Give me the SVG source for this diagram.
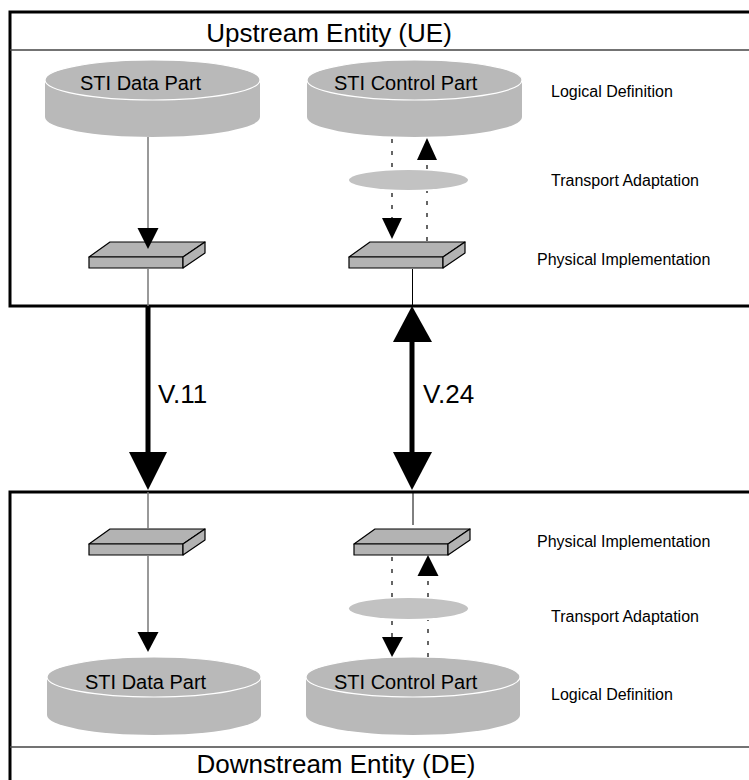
<svg xmlns="http://www.w3.org/2000/svg" width="749" height="780" viewBox="0 0 749 780">
<style>
text{font-family:"Liberation Sans",Arial,sans-serif;fill:#000}
.box{fill:#fff;stroke:#000;stroke-width:3}
.sep{stroke:#444;stroke-width:1.5}
.title{font-size:26px;text-anchor:middle}
.lbl{font-size:16px}
.cyl{fill:#b9b9b9}
.cyltop{fill:#b9b9b9;stroke:#fff;stroke-width:1.2}
.cname{font-size:20px}
.plate{fill:#b3b3b3;stroke:#000;stroke-width:1.2;stroke-linejoin:round}
.ta{fill:#c2c2c2}
.thin{stroke:#777;stroke-width:1.5;fill:none}
.thinb{stroke:#000;stroke-width:1;fill:none}
.dash{stroke:#000;stroke-width:1.2;stroke-dasharray:4 8;fill:none}
.big{stroke:#000;stroke-width:5;fill:none}
.head{fill:#000}
</style>
<g id="ue">
<rect class="box" x="10" y="12" width="745" height="294"/>
<line class="sep" x1="10" y1="50" x2="749" y2="50"/>
<text class="title" x="329" y="42">Upstream Entity (UE)</text>
</g>
<g id="de">
<rect class="box" x="10" y="492" width="745" height="300"/>
<line class="sep" x1="10" y1="747" x2="749" y2="747"/>
<text class="title" x="336" y="773">Downstream Entity (DE)</text>
</g>
<g id="labels">
<text class="lbl" x="551" y="97">Logical Definition</text>
<text class="lbl" x="551" y="186">Transport Adaptation</text>
<text class="lbl" x="537" y="265">Physical Implementation</text>
<text class="lbl" x="537" y="547">Physical Implementation</text>
<text class="lbl" x="551" y="622">Transport Adaptation</text>
<text class="lbl" x="551" y="700">Logical Definition</text>
</g>
<g id="ue-data-logical">
<path class="cyl" d="M45,80 V117 A107.5,20 0 0 0 260,117 V80 Z"/>
<ellipse class="cyltop" cx="152.5" cy="80" rx="107.5" ry="20"/>
<text class="cname" x="80" y="90">STI Data Part</text>
</g>
<g id="ue-control-logical">
<path class="cyl" d="M307,80 V117 A107.5,20 0 0 0 522,117 V80 Z"/>
<ellipse class="cyltop" cx="414.5" cy="80" rx="107.5" ry="20"/>
<text class="cname" x="334" y="90">STI Control Part</text>
</g>
<g id="ue-control-transport">
<ellipse class="ta" cx="408.5" cy="180" rx="59.5" ry="10"/>
</g>
<g id="ue-data-physical">
<path class="plate" d="M89,257 L110,242 H205 L183,257 Z"/>
<rect class="plate" x="89" y="257" width="94" height="11"/>
<path class="plate" d="M183,257 L205,242 V253 L183,268 Z"/>
</g>
<g id="ue-control-physical">
<path class="plate" d="M349,257 L370,242 H465 L443,257 Z"/>
<rect class="plate" x="349" y="257" width="94" height="11"/>
<path class="plate" d="M443,257 L465,242 V253 L443,268 Z"/>
</g>
<g id="de-data-physical">
<path class="plate" d="M89,544 L110,529 H205 L183,544 Z"/>
<rect class="plate" x="89" y="544" width="94" height="11"/>
<path class="plate" d="M183,544 L205,529 V540 L183,555 Z"/>
</g>
<g id="de-control-physical">
<path class="plate" d="M354,544 L375,529 H470 L448,544 Z"/>
<rect class="plate" x="354" y="544" width="94" height="11"/>
<path class="plate" d="M448,544 L470,529 V540 L448,555 Z"/>
</g>
<g id="de-control-transport">
<ellipse class="ta" cx="408.5" cy="608.5" rx="59.5" ry="10.5"/>
</g>
<g id="de-data-logical">
<path class="cyl" d="M47,677 V715 A107,20 0 0 0 261,715 V677 Z"/>
<ellipse class="cyltop" cx="154" cy="677" rx="107" ry="20"/>
<text class="cname" x="85" y="689">STI Data Part</text>
</g>
<g id="de-control-logical">
<path class="cyl" d="M306,677 V715 A107,20 0 0 0 520,715 V677 Z"/>
<ellipse class="cyltop" cx="413" cy="677" rx="107" ry="20"/>
<text class="cname" x="334" y="689">STI Control Part</text>
</g>
<g id="connectors">
<line class="thin" x1="148" y1="137" x2="148" y2="229"/>
<polygon class="head" points="137.5,228 158.5,228 148,249"/>
<line class="thin" x1="148" y1="269" x2="148" y2="306"/>
<line class="dash" x1="392" y1="139" x2="392" y2="169"/>
<line class="dash" x1="392" y1="193" x2="392" y2="219"/>
<polygon class="head" points="382,218 402,218 392,239"/>
<line class="dash" x1="427" y1="241" x2="427" y2="191"/>
<line class="dash" x1="427" y1="169" x2="427" y2="159"/>
<polygon class="head" points="417,160 437,160 427,138"/>
<line class="thinb" x1="412.5" y1="269" x2="412.5" y2="306"/>
<line class="big" x1="148" y1="306" x2="148" y2="454"/>
<polygon class="head" points="129,452 167,452 148,490"/>
<text x="158" y="403" style="font-size:26px">V.11</text>
<line class="big" x1="412" y1="340" x2="412" y2="454"/>
<polygon class="head" points="393,342 432,342 412,306"/>
<polygon class="head" points="393,452 432,452 412,490"/>
<text x="423" y="403" style="font-size:26px">V.24</text>
<line class="thin" x1="148" y1="492" x2="148" y2="529"/>
<line class="thin" x1="148" y1="556" x2="148" y2="633"/>
<polygon class="head" points="137.5,632 158.5,632 148,652"/>
<line class="thinb" x1="413" y1="492" x2="413" y2="525"/>
<line class="dash" x1="392" y1="557" x2="392" y2="597"/>
<line class="dash" x1="392" y1="621" x2="392" y2="638"/>
<polygon class="head" points="382,637 403,637 392,657"/>
<line class="dash" x1="428" y1="657" x2="428" y2="620"/>
<line class="dash" x1="428" y1="597" x2="428" y2="575"/>
<polygon class="head" points="417.5,576 438.5,576 428,555"/>
</g>
</svg>
